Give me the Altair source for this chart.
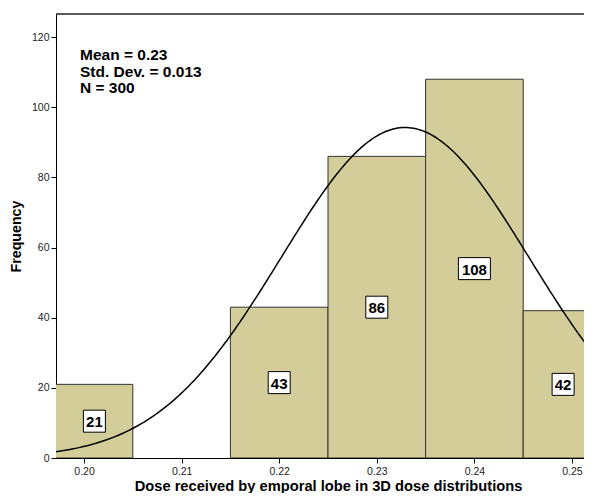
import altair as alt
import numpy as np
import pandas as pd

# ---- data ----
BIN_START = [0.195, 0.205, 0.215, 0.225, 0.235, 0.245]
COUNTS = [21, 0, 43, 86, 108, 42]
BIN_WIDTH = 0.01
N = 300
MEAN_SHOWN = "0.23"
SD_SHOWN = "0.013"
# unrounded fit parameters of the normal curve
MEAN = 0.2329
SD = 0.0127

X_DOMAIN = [0.19713, 0.25123]      # visible x range
X_FULL = [0.19713, 0.25318]        # x range of the original (cropped) frame
Y_DOMAIN = [0, 126.6]
X_TICKS = [0.20, 0.21, 0.22, 0.23, 0.24, 0.25]
Y_TICKS = [0, 20, 40, 60, 80, 100, 120]

W, H = 528, 444
FONT = "Liberation Sans"

bars = pd.DataFrame({"start": BIN_START, "count": COUNTS})
bars["end"] = bars["start"] + BIN_WIDTH
bars["lab_x"] = (bars["start"].clip(lower=X_FULL[0]) + bars["end"].clip(upper=X_FULL[1])) / 2
bars["half"] = bars["count"] / 2
bars["label"] = bars["count"].astype(str)
bars = bars[bars["count"] > 0]

xs = np.linspace(0.19, 0.26, 300)
curve = pd.DataFrame({
    "x": xs,
    "y": N * BIN_WIDTH / (SD * np.sqrt(2 * np.pi)) * np.exp(-0.5 * ((xs - MEAN) / SD) ** 2),
})

xscale = alt.Scale(domain=X_DOMAIN, nice=False, zero=False)
yscale = alt.Scale(domain=Y_DOMAIN, nice=False, zero=True)

xaxis = alt.Axis(
    title="Dose received by emporal lobe in 3D dose distributions",
    values=X_TICKS, format=".2f", grid=False,
    labelFont=FONT, labelFontSize=10.5, labelColor="#222",
    titleFont=FONT, titleFontSize=14.7, titleFontWeight="bold", titleColor="#000",
    tickSize=5, tickColor="#000", domainColor="#000", labelPadding=3,
    titleY=32, titleBaseline="alphabetic", titleX=272,
)
yaxis = alt.Axis(
    title="Frequency", values=Y_TICKS, grid=False,
    labelFont=FONT, labelFontSize=10.5, labelColor="#222",
    titleFont=FONT, titleFontSize=14.2, titleFontWeight="bold", titleColor="#000",
    tickSize=5, tickColor="#000", domainColor="#000", labelPadding=2,
    titleX=-40, titleY=H / 2, titleAngle=-90, titleAlign="center", titleBaseline="middle",
)

base = alt.Chart(bars)

bar_layer = base.mark_rect(fill="#d3ce99", stroke="#333", strokeWidth=1, clip=True).encode(
    x=alt.X("start:Q", scale=xscale, axis=xaxis),
    x2="end:Q",
    y=alt.Y("count:Q", scale=yscale, axis=yaxis),
    y2=alt.datum(0),
)

curve_layer = alt.Chart(curve).mark_line(color="#000", strokeWidth=1.5, clip=True).encode(
    x=alt.X("x:Q", scale=xscale),
    y=alt.Y("y:Q", scale=yscale),
)

def box(cond, half_w):
    return base.transform_filter(cond).mark_rect(
        fill="#fff", stroke="#000", strokeWidth=1,
        xOffset=-half_w, x2Offset=half_w, yOffset=-11, y2Offset=11,
    ).encode(
        x=alt.X("lab_x:Q", scale=xscale), x2="lab_x:Q",
        y=alt.Y("half:Q", scale=yscale), y2="half:Q",
    )

box2 = box("datum.count < 100", 11)
box3 = box("datum.count >= 100", 16)

label_layer = base.mark_text(
    font=FONT, fontSize=15, fontWeight="bold", color="#000", baseline="middle", dy=1
).encode(
    x=alt.X("lab_x:Q", scale=xscale),
    y=alt.Y("half:Q", scale=yscale),
    text="label:N",
)

frame_top = alt.Chart(pd.DataFrame({"a": [0]})).mark_rule(color="#222", strokeWidth=1.5).encode(
    x=alt.value(0), x2=alt.value(W), y=alt.value(0)
)

stats_lines = [f"Mean = {MEAN_SHOWN}", f"Std. Dev. = {SD_SHOWN}", f"N = {N}"]
stats = alt.Chart(pd.DataFrame({"a": [0]})).mark_text(
    font=FONT, fontSize=15.5, fontWeight="bold", color="#000",
    align="left", baseline="top", lineHeight=16.7,
).encode(
    x=alt.value(24), y=alt.value(34), text=alt.value(stats_lines)
)

chart = alt.layer(
    bar_layer, curve_layer, box2, box3, label_layer, frame_top, stats
).properties(
    width=W, height=H,
    autosize=alt.AutoSizeParams(type="none"),
    padding={"left": 48, "top": 6, "right": 0, "bottom": 35},
).configure_view(stroke=None)

chart.save("out.html", embed_options={"renderer": "svg", "actions": False})
